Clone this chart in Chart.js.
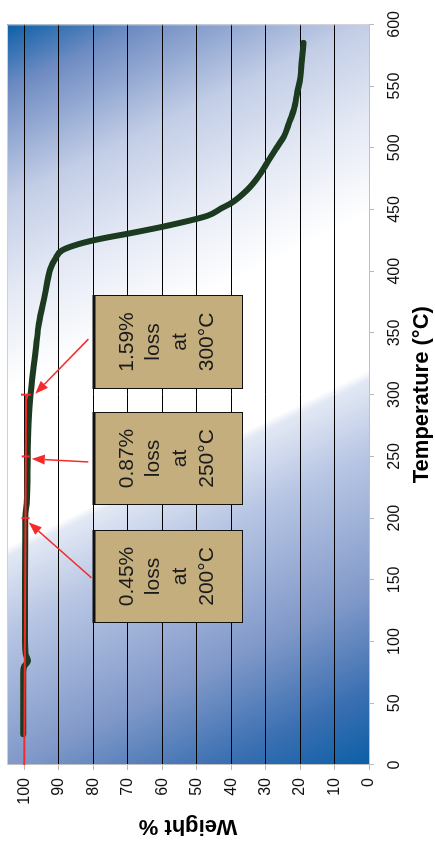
<!DOCTYPE html>
<html>
<head>
<meta charset="utf-8">
<script src="https://cdn.jsdelivr.net/npm/chart.js@4.4.1/dist/chart.umd.min.js"></script>
<style>
  html, body { margin: 0; padding: 0; background: #fff; overflow: hidden; }
  /* the chart is laid out landscape and turned a quarter turn to the left */
  #wrap { position: absolute; left: 0; top: 0; width: 847px; height: 435px;
          transform-origin: 0 0; transform: translateY(847px) rotate(-90deg); }
</style>
</head>
<body>
<div id="wrap"><canvas id="tga" width="847" height="435"></canvas></div>
<script>
// TGA curve
const temperature = [25, 50, 75, 80, 84, 90, 100, 150, 200, 205, 212, 250, 280, 300, 322, 340, 357, 381, 402, 410, 417, 422, 426.5, 430.5, 437, 445, 451, 455, 466, 477, 488, 500, 509, 520, 531, 545, 557, 570, 585];
const weight = [100.3, 100.3, 100.3, 100.0, 98.9, 99.6, 99.8, 99.8, 99.7, 99.6, 99.3, 99.0, 98.7, 98.2, 97.3, 96.5, 95.8, 94.0, 92.4, 91.0, 89.0, 84.2, 77.5, 69.8, 58.3, 46.8, 42.8, 40.1, 35.3, 32.0, 29.5, 26.8, 24.7, 23.2, 21.8, 20.8, 19.9, 19.5, 19.0];

// red reference line with marks at 200, 250 and 300 C
const refTemp = [0, 200, 250, 300];
const refWeight = [100, 99.67, 99.58, 99.5];

// note boxes (temperature span) and their text
const noteStart = [115, 210.4, 304.8];
const noteEnd = [189.3, 284.8, 379.6];
const noteLines = [
  ["0.45%", "loss", "at", "200°C"],
  ["0.87%", "loss", "at", "250°C"],
  ["1.59%", "loss", "at", "300°C"]
];
const noteTop = 80;
const noteBottom = 36.9;

// arrows: tail at the box, head on the curve
const arrowFromTemp = [151.6, 245.5, 345];
const arrowFromWeight = [80.5, 81.4, 81.4];
const arrowToTemp = [196.5, 248, 300.8];
const arrowToWeight = [98.7, 97.8, 96.8];

const bgPlugin = {
  id: "bg",
  beforeDraw(chart) {
    const { ctx, chartArea: a } = chart;
    const g = ctx.createLinearGradient(a.left, a.bottom, a.right, a.top);
    g.addColorStop(0, "#0b5fa7");
    g.addColorStop(0.08, "#3a6fb1");
    g.addColorStop(0.19, "#8199c9");
    g.addColorStop(0.34, "#b8c6e4");
    g.addColorStop(0.42, "#e2e8f4");
    g.addColorStop(0.43, "#ffffff");
    g.addColorStop(0.6, "#ffffff");
    g.addColorStop(0.71, "#e3e8f4");
    g.addColorStop(0.81, "#c2cde6");
    g.addColorStop(0.93, "#6d8bc2");
    g.addColorStop(1, "#0b5fa7");
    ctx.save();
    ctx.fillStyle = g;
    ctx.fillRect(a.left, a.top, a.right - a.left, a.bottom - a.top);
    ctx.restore();
  },
  afterDraw(chart) {
    const { ctx, chartArea: a } = chart;
    ctx.save();
    ctx.strokeStyle = "#d0d0d0";
    ctx.lineWidth = 1;
    ctx.beginPath();
    ctx.moveTo(a.left, a.top + 0.5);
    ctx.lineTo(a.right - 0.5, a.top + 0.5);
    ctx.lineTo(a.right - 0.5, a.bottom);
    ctx.stroke();
    ctx.restore();
  }
};

function drawArrow(ctx, x0, y0, x1, y1) {
  const ang = Math.atan2(y1 - y0, x1 - x0);
  const len = 13, half = 5;
  ctx.beginPath();
  ctx.moveTo(x0, y0);
  ctx.lineTo(x1 - len * Math.cos(ang), y1 - len * Math.sin(ang));
  ctx.stroke();
  ctx.beginPath();
  ctx.moveTo(x1, y1);
  ctx.lineTo(x1 - len * Math.cos(ang) + half * Math.sin(ang), y1 - len * Math.sin(ang) - half * Math.cos(ang));
  ctx.lineTo(x1 - len * Math.cos(ang) - half * Math.sin(ang), y1 - len * Math.sin(ang) + half * Math.cos(ang));
  ctx.closePath();
  ctx.fill();
}

const notesPlugin = {
  id: "notes",
  afterDatasetsDraw(chart) {
    const { ctx } = chart;
    const xs = chart.scales.x, ys = chart.scales.y;
    ctx.save();
    for (let i = 0; i < noteLines.length; i++) {
      const x0 = Math.round(xs.getPixelForValue(noteStart[i])) + 0.5;
      const x1 = Math.round(xs.getPixelForValue(noteEnd[i])) + 0.5;
      const y0 = Math.round(ys.getPixelForValue(noteTop)) + 0.5;
      const y1 = Math.round(ys.getPixelForValue(noteBottom)) + 0.5;
      ctx.fillStyle = "#c4ae7e";
      ctx.fillRect(x0, y0, x1 - x0, y1 - y0);
      ctx.strokeStyle = "#111";
      ctx.lineWidth = 1;
      ctx.strokeRect(x0, y0, x1 - x0, y1 - y0);
      ctx.lineWidth = 3;
      ctx.beginPath();
      ctx.moveTo(x0 - 0.5, y0 + 0.5);
      ctx.lineTo(x1 + 0.5, y0 + 0.5);
      ctx.stroke();
      ctx.fillStyle = "#1a1a1a";
      ctx.font = "21px 'Liberation Sans', Arial, sans-serif";
      ctx.textAlign = "center";
      ctx.textBaseline = "middle";
      const cx = (x0 + x1) / 2, cy = (y0 + y1) / 2 - 1;
      const lh = 26.6;
      noteLines[i].forEach((t, k) => {
        ctx.fillText(t, cx, cy + (k - 1.5) * lh);
      });
    }
    ctx.strokeStyle = "#f52a2a";
    ctx.fillStyle = "#f52a2a";
    ctx.lineWidth = 1.5;
    for (let i = 0; i < arrowFromTemp.length; i++) {
      drawArrow(ctx,
        xs.getPixelForValue(arrowFromTemp[i]), ys.getPixelForValue(arrowFromWeight[i]),
        xs.getPixelForValue(arrowToTemp[i]), ys.getPixelForValue(arrowToWeight[i]));
    }
    ctx.restore();
  }
};

const tickFont = { family: "'Liberation Sans', Arial, sans-serif", size: 16 };
const titleFont = { family: "'Liberation Sans', Arial, sans-serif", size: 22, weight: "bold" };

new Chart(document.getElementById("tga").getContext("2d"), {
  type: "scatter",
  data: {
    datasets: [
      {
        type: "line",
        data: refTemp.map((t, i) => ({ x: t, y: refWeight[i] })),
        borderColor: "#f52a2a",
        borderWidth: 2,
        pointStyle: "line",
        rotation: 90,
        pointRadius: [0, 4, 4, 5],
        pointBorderColor: "#f52a2a",
        pointBorderWidth: 2,
        tension: 0
      },
      {
        type: "line",
        data: temperature.map((t, i) => ({ x: t, y: weight[i] })),
        borderColor: "#1b3a1f",
        borderWidth: 6,
        borderCapStyle: "round",
        borderJoinStyle: "round",
        pointRadius: 0,
        cubicInterpolationMode: "monotone"
      }
    ]
  },
  options: {
    responsive: false,
    animation: false,
    layout: { padding: { top: 5, right: 17, left: 0, bottom: 0 } },
    plugins: { legend: { display: false }, tooltip: { enabled: false } },
    scales: {
      x: {
        type: "linear",
        min: 0,
        max: 600,
        afterFit: (s) => { s.height = 66; },
        ticks: { stepSize: 50, color: "#111", font: tickFont, padding: 11, maxRotation: 0 },
        grid: { drawOnChartArea: false, tickLength: 5, tickColor: "#b8b8b8" },
        border: { color: "#c0c0c0" },
        title: { display: true, text: "Temperature (°C)", color: "#000", font: titleFont, padding: { top: 0, bottom: 0 } }
      },
      y: {
        min: 0,
        max: 105,
        afterFit: (s) => { s.width = 82; s.paddingTop = 0; s.paddingBottom = 0; },
        ticks: { stepSize: 10, includeBounds: false, color: "#111", font: tickFont, padding: 8 },
        grid: {
          color: (c) => (c.tick && c.tick.value === 0 ? "rgba(0,0,0,0)" : "#000"),
          lineWidth: 1,
          tickLength: 5,
          tickColor: "#b8b8b8"
        },
        border: { color: "#c0c0c0" },
        title: { display: true, text: "Weight %", color: "#000", font: titleFont, padding: { top: 8, bottom: 0 } }
      }
    }
  },
  plugins: [bgPlugin, notesPlugin]
});
</script>
</body>
</html>
